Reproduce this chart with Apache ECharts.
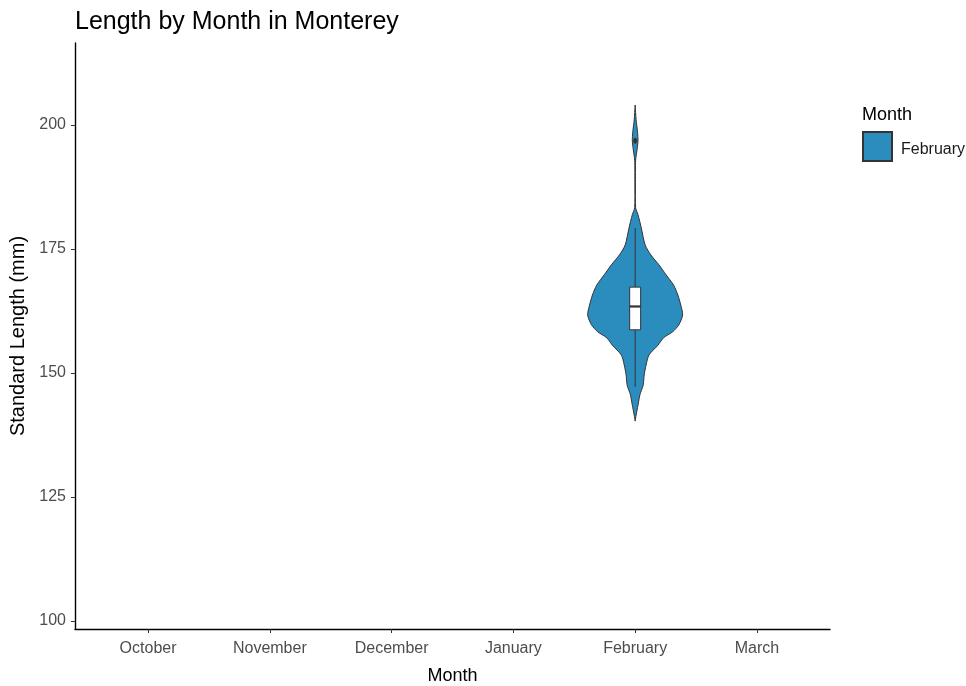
<!DOCTYPE html>
<html>
<head>
<meta charset="utf-8">
<script src="https://cdn.jsdelivr.net/npm/echarts@6/dist/echarts.min.js"></script>
<style>
  html, body { margin: 0; padding: 0; background: #fff; }
  #main { width: 966px; height: 686px; }
</style>
</head>
<body>
<div id="main"></div>
<script>
// 数据
var months = ['October', 'November', 'December', 'January', 'February', 'March'];
var yTicks = [100, 125, 150, 175, 200];
// violin (February): length values and relative density
var violinLength = [204.0, 201.0, 198.6, 196.8, 195.0, 192.9, 187.9, 183.3, 181.9, 179.2,
    175.8, 173.8, 171.8, 169.8, 167.7, 165.7, 163.7, 161.7, 159.7, 158.3,
    157.1, 155.6, 153.6, 151.6, 149.6, 147.6, 145.6, 143.5, 141.5, 140.3];
var violinDensity = [0, 0.02, 0.05, 0.06, 0.04, 0.01, 0.006, 0.01, 0.06, 0.13,
    0.21, 0.33, 0.5, 0.65, 0.81, 0.9, 0.96, 1.0, 0.92, 0.79,
    0.6, 0.48, 0.29, 0.23, 0.19, 0.17, 0.1, 0.06, 0.02, 0];
// boxplot: lower whisker, Q1, median, Q3, upper whisker
var boxStats = [147.2, 158.7, 163.4, 167.3, 179.2];
var outliers = [196.8];

(function(){
    var box = document.querySelector('#main')
    var myChart = echarts.init(box)
    var monthIndex = months.indexOf('February') + 1
    var violinWidth = 0.39   // 半宽（类目单位）
    var boxWidth = 0.045
    var font = 'Liberation Sans, Arial, sans-serif'

    var option = {
        animation: false,
        textStyle: { fontFamily: font },
        title: {
            text: 'Length by Month in Monterey',
            left: 70,
            top: 5,
            textStyle: { color: '#000', fontSize: 25, fontWeight: 'normal' }
        },
        legend: {
            data: ['February'],
            left: 857,
            top: 126,
            orient: 'vertical',
            icon: 'rect',
            itemWidth: 29,
            itemHeight: 29,
            formatter: '{t|{name}}',
            textStyle: {
                color: '#1a1a1a',
                fontSize: 16,
                rich: { t: { fontSize: 16, color: '#1a1a1a', padding: [7, 0, 0, 4] } }
            }
        },
        graphic: [{
            type: 'text',
            left: 862,
            top: 106,
            style: { text: 'Month', fill: '#000', fontSize: 18, fontFamily: font }
        }],
        grid: {
            left: 75,
            right: 136,
            top: 43,
            bottom: 57,
            outerBoundsMode: 'none'
        },
        xAxis: {
            type: 'value',
            min: 0.4,
            max: 6.6,
            name: 'Month',
            nameLocation: 'middle',
            nameGap: 38,
            nameTextStyle: { color: '#000', fontSize: 18 },
            axisLine: { show: true, onZero: false, lineStyle: { color: '#000', width: 1.4 } },
            axisTick: { show: true, length: 4, customValues: [1, 2, 3, 4, 5, 6], lineStyle: { color: '#333' } },
            axisLabel: {
                customValues: [1, 2, 3, 4, 5, 6],
                color: '#4d4d4d',
                fontSize: 16,
                margin: 12,
                formatter: function (v) { return months[Math.round(v) - 1] }
            },
            splitLine: { show: false }
        },
        yAxis: {
            type: 'value',
            min: 98.4,
            max: 216.5,
            name: 'Standard Length (mm)',
            nameLocation: 'middle',
            nameGap: 40,
            nameTextStyle: { color: '#000', fontSize: 20 },
            axisLine: { show: true, lineStyle: { color: '#000', width: 1.4 } },
            axisTick: { show: true, length: 4, customValues: yTicks, lineStyle: { color: '#333' } },
            axisLabel: { customValues: yTicks, color: '#4d4d4d', fontSize: 16, margin: 9 },
            splitLine: { show: false }
        },
        series: [
            {
                name: 'February',
                type: 'custom',
                itemStyle: { color: '#2b8cbe', borderColor: '#333', borderWidth: 1 },
                data: [[monthIndex]],
                renderItem: function (params, api) {
                    var x = api.value(0)
                    var left = [], right = []
                    for (var i = 0; i < violinLength.length; i++) {
                        var d = violinDensity[i] * violinWidth
                        right.push(api.coord([x + d, violinLength[i]]))
                        left.unshift(api.coord([x - d, violinLength[i]]))
                    }
                    return {
                        type: 'polygon',
                        shape: { points: right.concat(left), smooth: 0.25 },
                        style: { fill: '#2b8cbe', stroke: '#333', lineWidth: 1 }
                    }
                }
            },
            {
                name: 'box',
                type: 'custom',
                data: [[monthIndex]],
                renderItem: function (params, api) {
                    var x = api.value(0)
                    var lw = api.coord([x, boxStats[0]])
                    var q1l = api.coord([x - boxWidth, boxStats[1]])
                    var med = api.coord([x - boxWidth, boxStats[2]])
                    var medR = api.coord([x + boxWidth, boxStats[2]])
                    var q3r = api.coord([x + boxWidth, boxStats[3]])
                    var q1 = api.coord([x, boxStats[1]])
                    var q3 = api.coord([x, boxStats[3]])
                    var uw = api.coord([x, boxStats[4]])
                    var children = [
                        { type: 'line', shape: { x1: lw[0], y1: lw[1], x2: q1[0], y2: q1[1] }, style: { stroke: '#333', lineWidth: 1 } },
                        { type: 'line', shape: { x1: q3[0], y1: q3[1], x2: uw[0], y2: uw[1] }, style: { stroke: '#333', lineWidth: 1 } },
                        { type: 'rect', shape: { x: q1l[0], y: q3r[1], width: q3r[0] - q1l[0], height: q1l[1] - q3r[1] }, style: { fill: '#fff', stroke: '#333', lineWidth: 1 } },
                        { type: 'line', shape: { x1: med[0], y1: med[1], x2: medR[0], y2: medR[1] }, style: { stroke: '#333', lineWidth: 2.2 } }
                    ]
                    outliers.forEach(function (o) {
                        var p = api.coord([x, o])
                        children.push({ type: 'ellipse', shape: { cx: p[0], cy: p[1], rx: 2, ry: 3 }, style: { fill: '#333' } })
                    })
                    return { type: 'group', children: children }
                }
            }
        ]
    };
    myChart.setOption(option)
    window.addEventListener('resize', function () {
        myChart.resize()
    })
})();
</script>
</body>
</html>
